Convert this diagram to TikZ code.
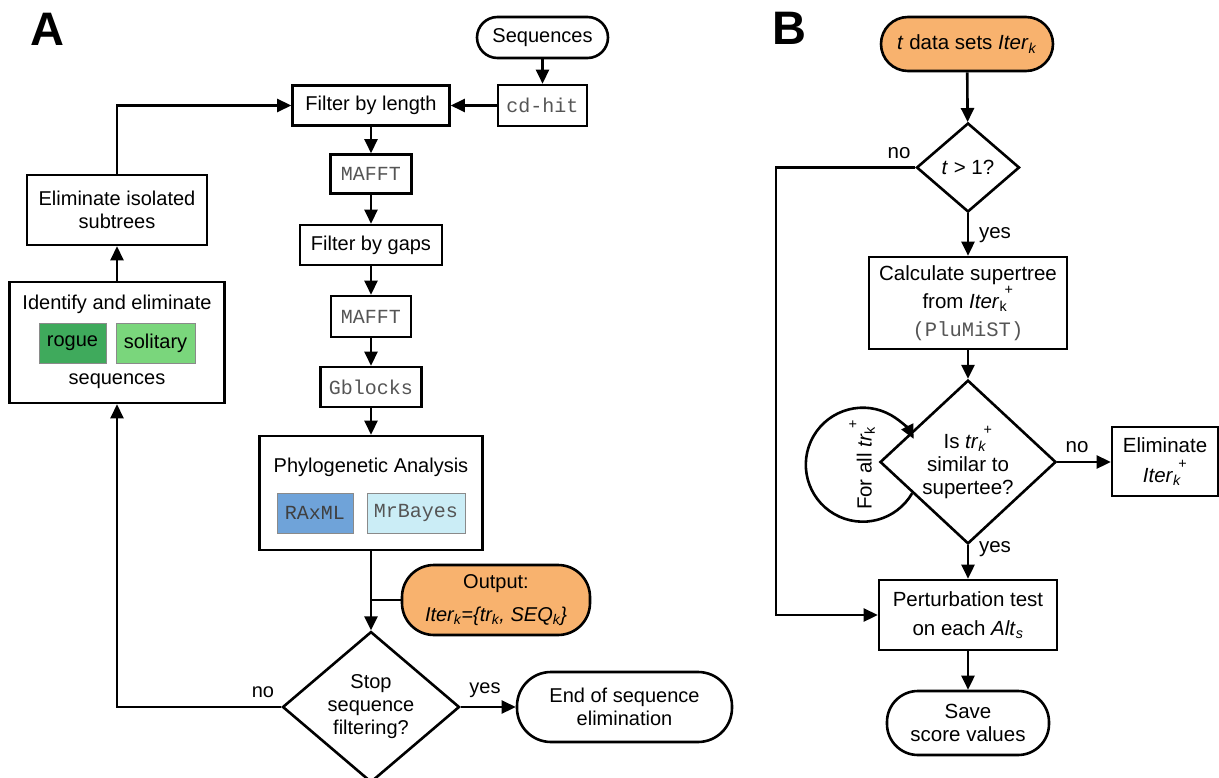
\documentclass[tikz,border=0pt]{standalone}
\usepackage{fontspec}
\setmainfont{Liberation Sans}
\setmonofont{Liberation Mono}
\usetikzlibrary{shapes.geometric,arrows.meta,calc}
\definecolor{orng}{HTML}{F8B26E}
\definecolor{dgreen}{HTML}{3FAA5C}
\definecolor{lgreen}{HTML}{7AD67C}
\definecolor{rblue}{HTML}{6FA3D9}
\definecolor{lcyan}{HTML}{CBEDF6}
\definecolor{monogray}{HTML}{555555}
\definecolor{subedge}{HTML}{8A8A8A}
\newcommand\subsup[2]{\rlap{\textsubscript{#1}}\hspace{0.25em}\raisebox{0.6ex}{\textsuperscript{#2}}}
\begin{document}
\begin{tikzpicture}[x=1pt,y=-1pt,
  line width=2.6pt,
  >={Triangle[length=14pt,width=13pt]},
  txtA/.style={font=\fontsize{20}{23}\selectfont, align=center},
  txtB/.style={font=\fontsize{20.5}{24}\selectfont, align=center},
  mono/.style={font=\fontsize{20}{24}\selectfont\ttfamily, text=monogray},
  rbox/.style={draw, rectangle, inner sep=0pt},
  dia/.style={draw, diamond, inner sep=0pt},
  subbox/.style={draw=subedge, line width=1pt, inner sep=0pt, minimum height=40pt},
  panel/.style={font=\fontsize{47}{47}\selectfont\bfseries}
]
\useasboundingbox (0,0) rectangle (1219,778);

% ---------------- Panel A ----------------
\node[panel] (labA) at (47,29) {A};
\node[rbox, minimum width=131, minimum height=41, rounded corners=20.5, txtA] (seq) at (542.5,37.5) {Sequences};
\node[rbox, minimum width=89, minimum height=41, mono] (cdhit) at (542.5,105.5) {cd-hit};
\node[rbox, minimum width=157, minimum height=40, txtA] (flen) at (371,105.5) {Filter by length};
\node[rbox, minimum width=81, minimum height=39, mono] (maf1) at (371,174) {MAFFT};
\node[rbox, minimum width=142, minimum height=40, txtA] (fgap) at (371,245) {Filter by gaps};
\node[rbox, minimum width=80, minimum height=41, mono] (maf2) at (371,316.5) {MAFFT};
\node[rbox, minimum width=101, minimum height=40, mono] (gbl) at (371,387) {Gblocks};
\node[rbox, minimum width=223, minimum height=114] (phy) at (371,493) {};
\node[txtA] (phyt) at (371,467) {Phylogenetic Analysis};
\node[subbox, fill=rblue, minimum width=76, mono, text=black!75] (rax) at (315,513) {RAxML};
\node[subbox, fill=lcyan, minimum width=98, mono] (mrb) at (416,513) {MrBayes};
\node[rbox, fill=orng, minimum width=188, minimum height=70, rounded corners=32, txtA] (out) at (496,600)
  {Output:\\[10pt] \itshape Iter\textsubscript{k}=\{tr\textsubscript{k}, SEQ\textsubscript{k}\}};
\node[dia, minimum width=177, minimum height=139, txtA] (stop) at (371,707) {Stop\\sequence\\filtering?};
\node[rbox, minimum width=215, minimum height=70, rounded corners=34, txtA] (endn) at (624.5,707) {End of sequence\\elimination};
\node[rbox, minimum width=180, minimum height=70, txtA] (elim) at (117,210) {Eliminate isolated\\subtrees};
\node[rbox, minimum width=215, minimum height=121] (ident) at (117,342.5) {};
\node[txtA] (identt) at (117,304) {Identify and eliminate};
\node[subbox, fill=dgreen, minimum width=67, txtA] (rogue) at (72.5,343) {rogue};
\node[subbox, fill=lgreen, minimum width=79, txtA] (solit) at (155.5,343) {solitary};
\node[txtA] (identb) at (117,381) {sequences};
\node[txtA] (noA) at (263,692) {no};
\node[txtA] (yesA) at (485,690) {yes};

\draw[->] (seq) -- (cdhit);
\draw[->] (cdhit) -- (flen);
\draw[->] (flen) -- (maf1);
\draw[->] (maf1) -- (fgap);
\draw[->] (fgap) -- (maf2);
\draw[->] (maf2) -- (gbl);
\draw[->] (gbl) -- (phy);
\draw[->] (phy.south) -- (stop.north);
\draw (phy.south |- out.west) -- (out.west);
\draw[->] (stop.east) -- (endn.west);
\draw[->] (stop.west) -| (ident.south);
\draw[->] (ident.north) -- (elim.south);
\draw[->] (elim.north) |- (flen.west);

% ---------------- Panel B ----------------
\node[panel] (labB) at (789,28) {B};
\node[rbox, fill=orng, minimum width=172, minimum height=54, rounded corners=27, txtB] (tdata) at (967,44)
  {\textit{t} data sets \textit{Iter}\textsubscript{\textit{k}}};
\node[dia, minimum width=103, minimum height=89, txtB] (d1) at (968,167.5) {\textit{t} > 1?};
\node[rbox, minimum width=198, minimum height=92, txtB, font=\fontsize{20.5}{28}\selectfont] (calc) at (968,303)
  {Calculate supertree\\from \textit{Iter}\subsup{k}{+}\\{\ttfamily\color{monogray}(PluMiST)}};
\node[dia, minimum width=176, minimum height=140, txtB, font=\fontsize{20.5}{23}\selectfont] (d2) at (968,462)
  {Is \textit{tr}\subsup{\textit{k}}{+}\\similar to\\supertee?};
\node[rbox, minimum width=106, minimum height=69, txtB, font=\fontsize{20.5}{30}\selectfont] (elimB) at (1165,461.5)
  {Eliminate\\\textit{Iter}\subsup{\textit{k}}{+}};
\node[rbox, minimum width=178, minimum height=70, txtB, font=\fontsize{20.5}{29}\selectfont] (pert) at (968,615)
  {Perturbation test\\on each \textit{Alt}\textsubscript{\textit{s}}};
\node[rbox, minimum width=162, minimum height=64, rounded corners=31, txtB, font=\fontsize{20.5}{23}\selectfont] (save) at (968,723)
  {Save\\score values};
\node[txtB] (noB1) at (899,153) {no};
\node[txtB] (yesB1) at (995,235) {yes};
\node[txtB] (noB2) at (1077,447) {no};
\node[txtB] (yesB2) at (995,549) {yes};
\node[txtB, rotate=90] (forall) at (862,465) {For all \textit{tr}\subsup{k}{+}};

\coordinate (noturn) at (776,0);
\draw[->] (tdata) -- (d1);
\draw[->] (d1) -- (calc);
\draw[->] (calc) -- (d2);
\draw[->] (d2.east) -- (d2.east -| elimB.west);
\draw[->] (d2) -- (pert);
\draw[->] (pert) -- (save);
\draw[->] (d1.west) -- (d1.west -| noturn) |- (pert.west);
\coordinate (lo) at ($(d2.west)!0.375!(d2.south)$);
\draw[->] (lo) arc[start angle=30, end angle=333, radius=57];
\end{tikzpicture}
\end{document}
